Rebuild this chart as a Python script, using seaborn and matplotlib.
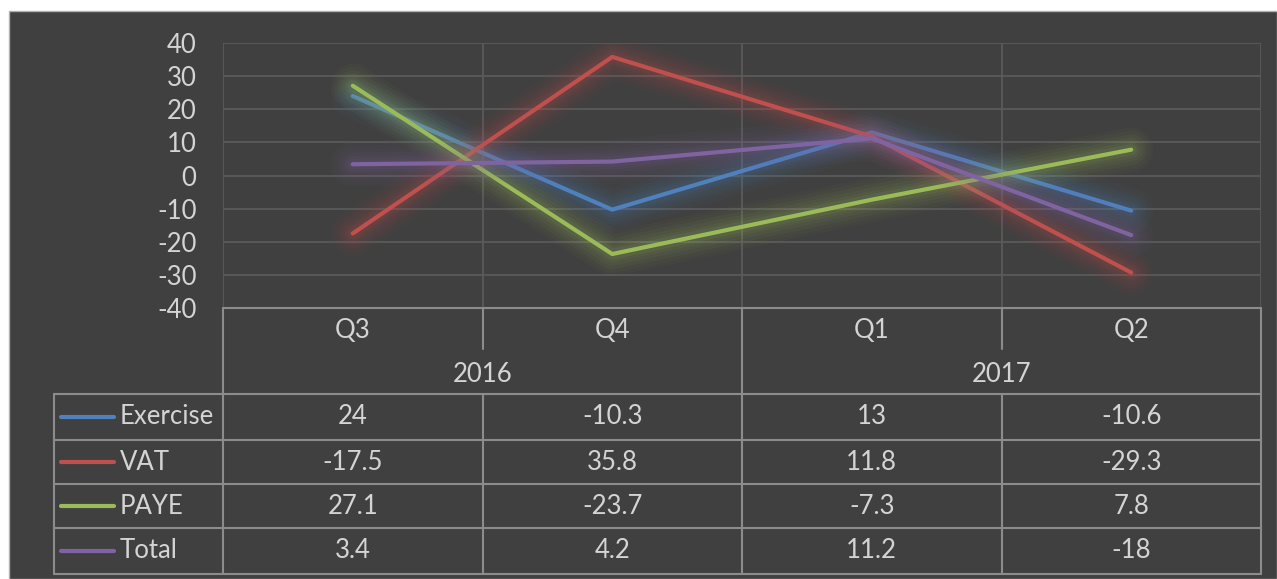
import matplotlib
matplotlib.use("Agg")
import matplotlib.pyplot as plt
import matplotlib.patheffects as pe
from matplotlib.lines import Line2D
from matplotlib.patches import Rectangle
from matplotlib.transforms import blended_transform_factory
import seaborn as sns
import pandas as pd

# ---- data ----
quarters = ["Q3", "Q4", "Q1", "Q2"]
years = ["2016", "2016", "2017", "2017"]
series_names = ["Exercise", "VAT", "PAYE", "Total"]
exercise = [24, -10.3, 13, -10.6]
vat = [-17.5, 35.8, 11.8, -29.3]
paye = [27.1, -23.7, -7.3, 7.8]
total = [3.4, 4.2, 11.2, -18]
value_labels = {
    "Exercise": ["24", "-10.3", "13", "-10.6"],
    "VAT": ["-17.5", "35.8", "11.8", "-29.3"],
    "PAYE": ["27.1", "-23.7", "-7.3", "7.8"],
    "Total": ["3.4", "4.2", "11.2", "-18"],
}
y_ticks = [-40, -30, -20, -10, 0, 10, 20, 30, 40]

colors = {"Exercise": "#4f81bd", "VAT": "#c0504d", "PAYE": "#9bbb59", "Total": "#8064a2"}

periods = [f"{q} {y}" for q, y in zip(quarters, years)]
rows = []
for name, vals in zip(series_names, [exercise, vat, paye, total]):
    for p, v in zip(periods, vals):
        rows.append({"period": p, "series": name, "value": v})
df = pd.DataFrame(rows)

# ---- style ----
sns.set_style("dark")
plt.rcParams["font.family"] = ["Lato", "DejaVu Sans"]
TXT = "#d4d4d4"
BG = "#404040"
GRID = "#5a5a5a"
TBL = "#8c8c8c"
FS = 18.5

W, H = 1277, 579
fig = plt.figure(figsize=(W / 100, H / 100), dpi=100, facecolor="white")
fig.add_artist(Rectangle((9 / W, 0), 1 - 9 / W, 1 - 11 / H, transform=fig.transFigure,
                         facecolor=BG, edgecolor="#b0b0b0", linewidth=1.0, zorder=0))

def fy(py):
    return 1 - py / H

ax = fig.add_axes([223 / W, fy(308), (1261 - 223) / W, fy(43) - fy(308)])
ax.set_facecolor(BG)

sns.lineplot(data=df, x="period", y="value", hue="series", palette=colors,
             sort=False, linewidth=3.0, legend=False, ax=ax)

for line in ax.get_lines():
    c = line.get_color()
    line.set_solid_capstyle("round")
    line.set_path_effects([
        pe.Stroke(linewidth=32, foreground=c, alpha=0.035),
        pe.Stroke(linewidth=27, foreground=c, alpha=0.04),
        pe.Stroke(linewidth=22, foreground=c, alpha=0.05),
        pe.Stroke(linewidth=17, foreground=c, alpha=0.06),
        pe.Stroke(linewidth=12, foreground=c, alpha=0.07),
        pe.Stroke(linewidth=8, foreground=c, alpha=0.09),
        pe.Normal(),
    ])

n = len(quarters)
ax.set_xlim(-0.5, n - 0.5)
ax.set_ylim(-40, 40)
ax.set_yticks(y_ticks)
ax.set_yticklabels([str(t) for t in y_ticks])
ax.set_xticks([i - 0.5 for i in range(n + 1)])
ax.set_xticklabels([])
ax.set_xlabel("")
ax.set_ylabel("")
ax.tick_params(axis="y", length=0, pad=19, labelsize=FS, labelcolor=TXT)
ax.tick_params(axis="x", length=0)
ax.grid(True, color=GRID, linewidth=1.3)
for s in ax.spines.values():
    s.set_visible(False)

# ---- data table ----
fig.canvas.draw()
bt = blended_transform_factory(ax.transData, fig.transFigure)
ft = fig.transFigure

def hline(x0, x1, py, trans=bt):
    fig.add_artist(Line2D([x0, x1], [fy(py), fy(py)], transform=trans, color=TBL, linewidth=1.5))

def vline(x, py0, py1, trans=bt):
    fig.add_artist(Line2D([x, x], [fy(py0), fy(py1)], transform=trans, color=TBL, linewidth=1.5))

left_px = 54
left_data = ax.transData.inverted().transform((left_px, 0))[0]

head_top, head_mid, head_bot = 308, 349, 394
row_edges = [394, 440, 484, 528, 574]

hline(-0.5, n - 0.5, head_top)
vline(-0.5, head_top, head_bot)
vline(n - 0.5, head_top, head_bot)
year_groups = []
for i, y in enumerate(years):
    if not year_groups or year_groups[-1][0] != y:
        year_groups.append([y, i, i])
    else:
        year_groups[-1][2] = i
for i in range(1, n):
    if years[i] != years[i - 1]:
        vline(i - 0.5, head_top, head_bot)
    else:
        vline(i - 0.5, head_top, head_mid)
for i, q in enumerate(quarters):
    t = fig.text(0, fy(331), q, transform=bt, ha="center", va="center", color=TXT, fontsize=FS)
    t.set_x(i)
for y, a, b in year_groups:
    t = fig.text(0, fy(374), y, transform=bt, ha="center", va="center", color=TXT, fontsize=FS)
    t.set_x((a + b) / 2)

for py in row_edges:
    hline(left_data, n - 0.5, py)
vline(left_data, row_edges[0], row_edges[-1])
for i in range(n + 1):
    vline(i - 0.5, row_edges[0], row_edges[-1])

for r, name in enumerate(series_names):
    cy = fy((row_edges[r] + row_edges[r + 1]) / 2)
    fig.add_artist(Line2D([61 / W, 114 / W], [cy, cy], transform=ft, color=colors[name],
                          linewidth=3.0, solid_capstyle="round"))
    fig.text(120 / W, cy, name, transform=ft, ha="left", va="center", color=TXT, fontsize=FS)
    for i, lab in enumerate(value_labels[name]):
        t = fig.text(0, cy, lab, transform=bt, ha="center", va="center", color=TXT, fontsize=FS)
        t.set_x(i)

fig.savefig("out.png", dpi=100, facecolor="white")
